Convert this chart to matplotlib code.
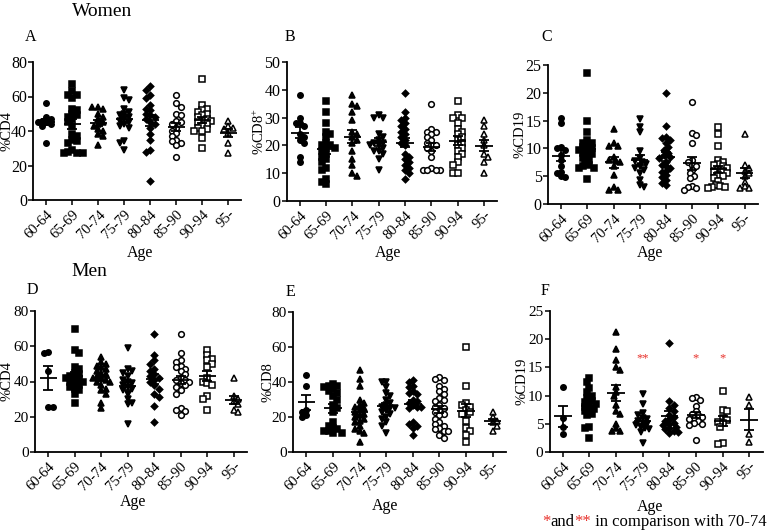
import numpy as np
import matplotlib
matplotlib.use("Agg")
import matplotlib.pyplot as plt

plt.rcParams['font.family'] = ['Liberation Serif', 'DejaVu Serif']
plt.rcParams['mathtext.fontset'] = 'custom'
plt.rcParams['mathtext.rm'] = 'Liberation Serif'
plt.rcParams['mathtext.it'] = 'Liberation Serif:italic'

categories = ["60-64", "65-69", "70-74", "75-79", "80-84", "85-90", "90-94", "95-"]

# Women %CD4 (A)
women_cd4 = [
    [56, 48, 47, 46, 45, 45, 44, 43, 33],
    [67, 63, 61, 61, 59, 53, 52, 50, 49, 48, 47, 45, 43, 38, 37, 35, 34, 33, 29, 28, 27, 27, 27],
    [54, 54, 53, 50, 48, 47, 45, 44, 43, 41, 40, 38, 37, 32],
    [64, 59, 58, 53, 51, 50, 49, 48, 47, 46, 45, 44, 43, 42, 34, 33, 29],
    [66, 64, 61, 59, 55, 53, 52, 50, 49, 48, 47, 45, 44, 42, 38, 35, 29, 28, 11],
    [61, 56, 54, 50, 49, 46, 45, 44, 42, 40, 39, 37, 35, 34, 33, 32, 25],
    [70, 55, 53, 52, 51, 50, 49, 48, 47, 46, 46, 45, 44, 43, 42, 41, 40, 40, 36, 30],
    [46, 43, 42, 41, 39, 33, 27],
]
# Women %CD8+ (B)
women_cd8 = [
    [38, 30, 28, 28, 27, 24, 23, 22, 21, 16, 14],
    [36, 32, 28, 25, 24, 23, 21, 20, 20, 19, 19, 18, 17, 16, 15, 14, 12, 11, 8, 7, 6],
    [38, 35, 34, 32, 29, 25, 24, 23, 22, 21, 18, 15, 13, 10, 9],
    [31, 30, 30, 24, 23, 22, 21, 21, 20, 20, 19, 18, 18, 17, 15, 11],
    [39, 32, 30, 29, 28, 27, 26, 25, 24, 23, 22, 21, 20, 17, 16, 15, 14, 13, 12, 11, 10, 8],
    [35, 26, 25, 25, 24, 23, 22, 21, 20, 20, 19, 18, 16, 12, 11, 11, 11, 11],
    [36, 31, 30, 30, 28, 26, 25, 24, 23, 22, 21, 20, 19, 18, 17, 16, 14, 13, 10, 10],
    [29, 27, 24, 22, 20, 17, 16, 14, 10],
]
# Women %CD19 (C)
women_cd19 = [
    [15.5, 14.5, 10.2, 9.7, 10.0, 8.8, 7.9, 6.8, 5.8, 5.5, 5.0, 4.8],
    [23.5, 15, 13, 11.5, 11, 11, 10.5, 10.2, 10, 9.8, 9.5, 9.2, 9, 8.7, 8.3, 8, 7.5, 7, 6.8, 6.5, 6.5, 4.5],
    [13.5, 11, 10.5, 10.5, 8.5, 8, 7.8, 7.5, 6.8, 5.2, 3, 2.6, 2.5],
    [15.2, 13.9, 13, 9.5, 8.2, 7.8, 7.5, 7.2, 6.8, 6.5, 6.2, 5.5, 4.3, 3.5, 3.0],
    [20, 14, 12, 11.8, 11.5, 11, 10.3, 9.8, 9.2, 8.8, 8.5, 8.2, 7.6, 7, 6.8, 6.4, 6, 5.8, 5.2, 4.8, 4.3, 3.8, 3.5],
    [18.4, 12.8, 12.4, 11, 8, 7.5, 7, 6.8, 6.2, 5.5, 5, 4.6, 3.2, 3, 2.8, 2.6],
    [13.8, 12.5, 10.4, 8, 7.6, 7.2, 7, 6.8, 6.5, 6.2, 6, 5.8, 5.5, 5.2, 5, 4.6, 4.2, 3.5, 3.2, 3, 3, 2.8],
    [12.6, 7, 6.5, 6, 5.5, 5, 4, 3.2, 2.8, 2.8],
]
# Men %CD4 (D)
men_cd4 = [
    [57, 56, 46, 25.5, 25.3],
    [70, 58, 56, 48, 47, 45, 44, 43, 42, 42, 41, 40, 40, 39, 38, 37, 36, 35, 33, 28],
    [54, 51, 50, 49, 48, 47, 46, 45, 44, 43, 42, 42, 41, 40, 40, 38, 36, 35, 33, 28, 25],
    [59, 47, 46, 45, 43, 41, 40, 39, 38, 37, 36, 35, 33, 30, 28, 27, 16],
    [67, 55, 52, 50, 47, 46, 44, 43, 42, 41, 40, 38, 36, 33, 31, 26, 17],
    [67, 56, 52, 51, 49, 48, 47, 46, 44, 42, 41, 41, 40, 39, 38, 37, 35, 33, 25, 24, 23, 21],
    [58, 55, 53, 52, 50, 48, 42, 40, 39, 38, 32, 30, 24],
    [42, 32, 30, 29, 27, 24, 22.5],
]
# Men %CD8 (E)
men_cd8 = [
    [44, 38, 24, 23, 21, 20],
    [39, 38, 38, 37, 36, 35, 34, 32, 30, 27, 25, 23, 17, 15, 14, 13, 12, 12, 11, 11],
    [47, 42, 38, 30, 28, 27, 26, 25, 24, 23, 22, 21, 20, 19, 18, 17, 15, 13, 12, 11, 6],
    [40, 40, 37, 34, 32, 30, 28, 27, 26, 25, 25, 24, 23, 22, 20, 19, 17, 15, 11],
    [41, 40, 38, 37, 35, 34, 33, 30, 29, 28, 27, 26, 26, 25, 17, 16, 15, 14, 10],
    [43, 42, 41, 38, 36, 35, 33, 31, 30, 29, 27, 26, 25, 24, 23, 22, 21, 19, 17, 16, 15, 14, 13, 12, 12, 10, 8],
    [60, 38, 28, 27, 26, 24, 23, 22, 18, 14, 12, 10, 6],
    [23, 20, 18, 17, 15, 12],
]
# Men %CD19 (F)
men_cd19 = [
    [11.5, 6.0, 4.5, 3.2],
    [13.2, 12.5, 11.3, 10.6, 10, 9.5, 9, 8.8, 8.5, 8.3, 8, 7.7, 7.5, 7.2, 6.8, 6.5, 4.5, 4.2, 2.5],
    [21.3, 18.2, 16.3, 15, 14.5, 11.5, 10.7, 10, 8.3, 7.2, 6.7, 5, 4.2, 3.8, 3.8],
    [10.2, 8.5, 7, 6.5, 6, 5.8, 5.5, 5.2, 5, 4.8, 4.5, 4.2, 4, 3.6, 1.6],
    [19.4, 9, 8.4, 7.8, 7.2, 6.6, 6.2, 5.8, 5.5, 5.2, 5, 4.8, 4.5, 4.2, 4, 3.8, 3.5, 3.3],
    [9.8, 9.5, 9.2, 8.2, 7.2, 6.8, 6.5, 6.2, 6.0, 5.8, 5.5, 5.2, 5.0, 4.8, 2.1],
    [10.9, 7.5, 7.2, 6, 5.6, 5.4, 5.2, 4.5, 1.6, 1.4],
    [9.7, 8.3, 3.2, 1.8],
]
# significance marks in F
sig_labels = {"75-79": "**", "85-90": "*", "90-94": "*"}
sig_level = 16.6

W, H = 771, 532
fig = plt.figure(figsize=(W / 100, H / 100), dpi=100)

markers = ['o', 's', '^', 'v', 'D', 'o', 's', '^']
filled = [True, True, True, True, True, False, False, False]
msizes = [3.9, 3.8, 4.3, 4.3, 3.3, 4.1, 4.1, 4.5]


def add_axes_px(left, top, width, bottom):
    return fig.add_axes([left / W, 1 - bottom / H, width / W, (bottom - top) / H])


def swarm_x(ax, xc, vals, d):
    trans = ax.transData
    inv = trans.inverted()
    placed = []
    xs = np.zeros(len(vals))
    order = np.argsort(vals)[::-1]
    for n_i, idx in enumerate(order):
        px, py = trans.transform((xc, vals[idx]))
        sign = 1 if n_i % 2 == 0 else -1
        cands = [0.0]
        for j in range(1, 60):
            cands += [sign * j * 0.5 * d, -sign * j * 0.5 * d]
        chosen = 0.0
        for off in cands:
            if all((px + off - qx) ** 2 + (py - qy) ** 2 >= d ** 2 for qx, qy in placed):
                chosen = off
                break
        placed.append((px + chosen, py))
        xs[idx] = inv.transform((px + chosen, py))[0]
    return xs


def panel(rect, data, ymax, ystep, ylabel, ylabel_right, letter, letter_xy, age_xy, tick_fs):
    ax = add_axes_px(*rect)
    left, top, width, bottom = rect
    ax.set_xlim(-0.5, 7.5)
    ax.set_ylim(0, ymax)
    ax.set_yticks(np.arange(0, ymax + 0.1, ystep))
    ax.set_xticks(range(len(categories)))
    ax.set_xticklabels(categories, rotation=45, ha='right', rotation_mode='anchor', fontsize=10.5)
    ax.tick_params(axis='y', labelsize=tick_fs, length=3.5, width=1.1, pad=1)
    ax.tick_params(axis='x', length=3.5, width=1.1, pad=2)
    for s in ['top', 'right']:
        ax.spines[s].set_visible(False)
    for s in ['left', 'bottom']:
        ax.spines[s].set_linewidth(1.3)
    ax.set_ylabel(ylabel, fontsize=10.5)
    ax.yaxis.set_label_coords((ylabel_right - left) / width, 0.5)
    for i, vals in enumerate(data):
        v = np.array(vals, dtype=float)
        xs = swarm_x(ax, i, v, 4.3)
        ax.plot(xs, v, linestyle='none', marker=markers[i], ms=msizes[i],
                mfc='black' if filled[i] else 'white', mec='black',
                mew=1.1, zorder=3, clip_on=False)
        m = v.mean()
        se = v.std(ddof=1) / np.sqrt(len(v))
        ax.hlines(m, i - 0.33, i + 0.33, color='black', lw=1.3, zorder=4)
        ax.errorbar(i, m, yerr=se, fmt='none', ecolor='black', elinewidth=1.3,
                    capsize=3.5, capthick=1.3, zorder=4)
    fig.text(letter_xy[0] / W, 1 - letter_xy[1] / H, letter, fontsize=11.5,
             ha='center', va='center')
    fig.text(age_xy[0] / W, 1 - age_xy[1] / H, "Age", fontsize=11.5,
             ha='center', va='center')
    return ax


panel((33.3, 62, 208, 200), women_cd4, 80, 20, "%CD4", 13.5, "A", (31, 37), (140, 253), 11.5)
panel((286.7, 62, 210.4, 201), women_cd8, 50, 10, r"%CD8$^{+}$", 267, "B", (290, 37), (388, 253), 11.5)
panel((548, 65, 209.6, 204), women_cd19, 25, 5, "%CD19", 527, "C", (547, 37), (650, 253), 11.5)
panel((35, 311, 212, 452), men_cd4, 80, 20, "%CD4", 13.5, "D", (32, 290), (133, 502), 11)
panel((293, 312, 213, 452), men_cd8, 80, 20, "%CD8", 274, "E", (290, 292), (385, 506), 11)
axF = panel((549.5, 311, 213, 452), men_cd19, 25, 5, "%CD19", 529, "F", (545, 291), (650, 507), 11)

for cat, lab in sig_labels.items():
    axF.text(categories.index(cat), sig_level, lab, color='#e8302a', fontsize=9,
             ha='center', va='center')

fig.text(102 / W, 1 - 11 / H, "Women", fontsize=14, ha='center', va='center')
fig.text(89 / W, 1 - 272 / H, "Men", fontsize=14, ha='center', va='center')

t1 = axF.annotate("*", xy=(542, 532 - 530), xycoords='figure pixels', color='#e8302a',
                  fontsize=12, va='bottom', ha='left', annotation_clip=False)
t2 = axF.annotate("and", xy=(1, 0), xycoords=t1, fontsize=12, va='bottom', ha='left',
                  annotation_clip=False)
t3 = axF.annotate("**", xy=(1, 0), xycoords=t2, color='#e8302a', fontsize=12,
                  va='bottom', ha='left', annotation_clip=False)
t4 = axF.annotate(" in comparison with 70-74", xy=(1, 0), xycoords=t3, fontsize=12,
                  va='bottom', ha='left', annotation_clip=False)

fig.savefig("out.png", dpi=100)
